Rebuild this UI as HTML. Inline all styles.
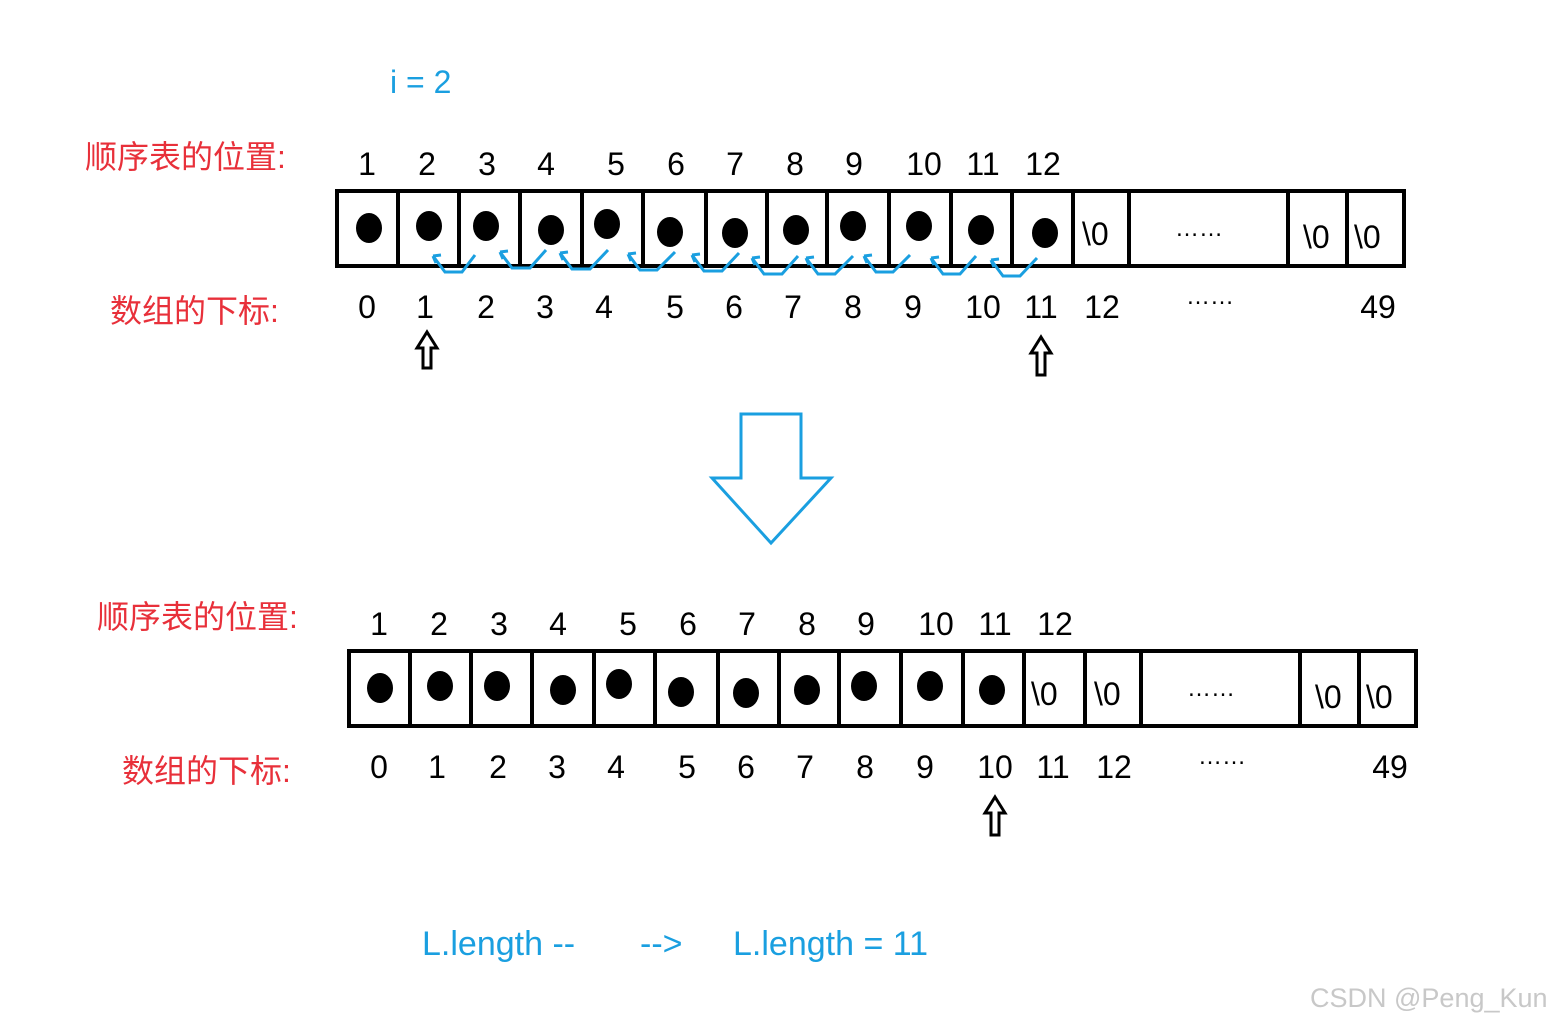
<!DOCTYPE html>
<html><head><meta charset="utf-8"><style>body{margin:0;background:#fff}svg{display:block}
text{font-family:"Liberation Sans","Noto Sans CJK SC",sans-serif}</style></head><body>
<svg width="1561" height="1024" viewBox="0 0 1561 1024" xmlns="http://www.w3.org/2000/svg">
<text x="390" y="93" font-size="32" fill="#1a9fe0">i = 2</text>
<g font-size="32" fill="#e8303a">
<text x="85" y="168">顺序表的位置:</text><text x="110" y="322">数组的下标:</text>
<text x="97" y="628">顺序表的位置:</text><text x="122" y="782">数组的下标:</text>
</g>
<g id="top" fill="none" stroke="#000" stroke-width="4">
<rect x="337" y="191" width="1067" height="75"/>
<path d="M398 191V266M459 191V266M520 191V266M582 191V266M643 191V266M706 191V266M767 191V266M827 191V266M889 191V266M951 191V266M1012 191V266M1073 191V266M1129 191V266M1288 191V266M1347 191V266"/>
</g>
<g fill="#000">
<ellipse cx="369" cy="228" rx="13" ry="15"/><ellipse cx="429" cy="226" rx="13" ry="15"/><ellipse cx="486" cy="226" rx="13" ry="15"/><ellipse cx="551" cy="230" rx="13" ry="15"/><ellipse cx="607" cy="224" rx="13" ry="15"/><ellipse cx="670" cy="232" rx="13" ry="15"/><ellipse cx="735" cy="233" rx="13" ry="15"/><ellipse cx="796" cy="230" rx="13" ry="15"/><ellipse cx="853" cy="226" rx="13" ry="15"/><ellipse cx="919" cy="226" rx="13" ry="15"/><ellipse cx="981" cy="230" rx="13" ry="15"/><ellipse cx="1045" cy="233" rx="13" ry="15"/>
</g>
<g font-size="32" fill="#000">
<text x="1082" y="245">\0</text><text x="1303" y="248">\0</text><text x="1354" y="248">\0</text>
<text x="1175" y="236" font-size="24">……</text>
</g>
<g font-size="32" fill="#000" text-anchor="middle">
<text x="367" y="175">1</text><text x="427" y="175">2</text><text x="487" y="175">3</text><text x="546" y="175">4</text><text x="616" y="175">5</text><text x="676" y="175">6</text><text x="735" y="175">7</text><text x="795" y="175">8</text><text x="854" y="175">9</text><text x="924" y="175">10</text><text x="983" y="175">11</text><text x="1043" y="175">12</text>
<text x="367" y="318">0</text><text x="425" y="318">1</text><text x="486" y="318">2</text><text x="545" y="318">3</text><text x="604" y="318">4</text><text x="675" y="318">5</text><text x="734" y="318">6</text><text x="793" y="318">7</text><text x="853" y="318">8</text><text x="913" y="318">9</text><text x="983" y="318">10</text><text x="1041" y="318">11</text><text x="1102" y="318">12</text><text x="1210" y="304" font-size="24">……</text><text x="1378" y="318">49</text>
</g>
<g fill="none" stroke="#1a9fe0" stroke-width="3">
<path d="M433 256L445 272H462L475 255M433 256l8 -1M433 256l3 7"/>
<path d="M500 252L512 268H530L546 250M500 252l8 -1M500 252l3 7"/>
<path d="M560 253L572 269H590L608 250M560 253l8 -1M560 253l3 7"/>
<path d="M628 254L640 270H657L675 252M628 254l8 -1M628 254l3 7"/>
<path d="M692 255L704 271H722L739 253M692 255l8 -1M692 255l3 7"/>
<path d="M752 258L764 274H782L798 256M752 258l8 -1M752 258l3 7"/>
<path d="M806 258L818 274H835L853 256M806 258l8 -1M806 258l3 7"/>
<path d="M864 256L876 272H893L910 255M864 256l8 -1M864 256l3 7"/>
<path d="M931 258L943 274H960L976 256M931 258l8 -1M931 258l3 7"/>
<path d="M991 260L1003 276H1020L1037 258M991 260l8 -1M991 260l3 7"/>
</g>
<g fill="#fff" stroke="#000" stroke-width="3">
<path d="M427 332L437 348H431V368H423V348H417Z"/>
<path d="M1041 337L1051 353H1045V375H1037V353H1031Z"/>
<path d="M995 797L1005 813H999V835H991V813H985Z"/>
</g>
<polygon points="741,414 801,414 801,478 831,478 771,543 712,478 741,478" fill="#fff" stroke="#1a9fe0" stroke-width="3"/>
<g fill="none" stroke="#000" stroke-width="4">
<rect x="349" y="651" width="1067" height="75"/>
<path d="M410 651V726M471 651V726M532 651V726M594 651V726M655 651V726M718 651V726M779 651V726M839 651V726M901 651V726M963 651V726M1024 651V726M1085 651V726M1141 651V726M1300 651V726M1359 651V726"/>
</g>
<g fill="#000">
<ellipse cx="380" cy="688" rx="13" ry="15"/><ellipse cx="440" cy="686" rx="13" ry="15"/><ellipse cx="497" cy="686" rx="13" ry="15"/><ellipse cx="563" cy="690" rx="13" ry="15"/><ellipse cx="619" cy="684" rx="13" ry="15"/><ellipse cx="681" cy="692" rx="13" ry="15"/><ellipse cx="746" cy="693" rx="13" ry="15"/><ellipse cx="807" cy="690" rx="13" ry="15"/><ellipse cx="864" cy="686" rx="13" ry="15"/><ellipse cx="930" cy="686" rx="13" ry="15"/><ellipse cx="992" cy="690" rx="13" ry="15"/>
</g>
<g font-size="32" fill="#000">
<text x="1031" y="705">\0</text><text x="1094" y="705">\0</text><text x="1315" y="708">\0</text><text x="1366" y="708">\0</text>
<text x="1187" y="696" font-size="24">……</text>
</g>
<g font-size="32" fill="#000" text-anchor="middle">
<text x="379" y="635">1</text><text x="439" y="635">2</text><text x="499" y="635">3</text><text x="558" y="635">4</text><text x="628" y="635">5</text><text x="688" y="635">6</text><text x="747" y="635">7</text><text x="807" y="635">8</text><text x="866" y="635">9</text><text x="936" y="635">10</text><text x="995" y="635">11</text><text x="1055" y="635">12</text>
<text x="379" y="778">0</text><text x="437" y="778">1</text><text x="498" y="778">2</text><text x="557" y="778">3</text><text x="616" y="778">4</text><text x="687" y="778">5</text><text x="746" y="778">6</text><text x="805" y="778">7</text><text x="865" y="778">8</text><text x="925" y="778">9</text><text x="995" y="778">10</text><text x="1053" y="778">11</text><text x="1114" y="778">12</text><text x="1222" y="764" font-size="24">……</text><text x="1390" y="778">49</text>
</g>
<g font-size="34" fill="#1a9fe0">
<text x="422" y="955">L.length --</text><text x="640" y="955">--&gt;</text><text x="733" y="955">L.length = 11</text>
</g>
<text x="1310" y="1007" font-size="27" fill="#c8c8c8">CSDN @Peng_Kun</text>
</svg>
</body></html>
